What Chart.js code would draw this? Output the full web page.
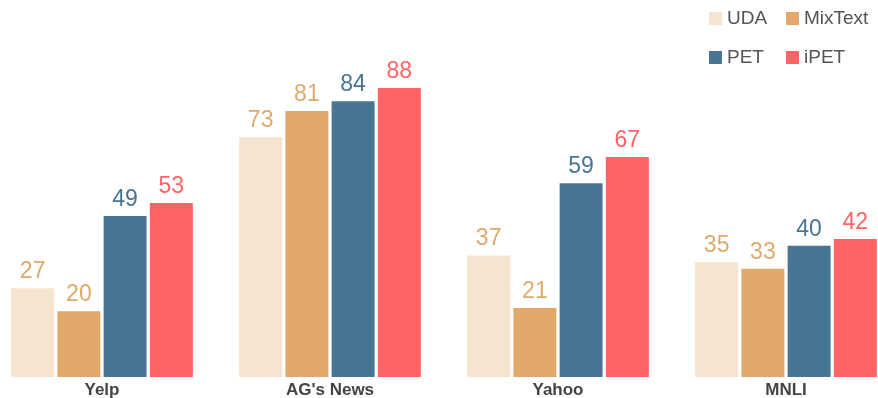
<!DOCTYPE html>
<html>
<head>
<meta charset="utf-8">
<script src="https://cdn.jsdelivr.net/npm/chart.js@4"></script>
<style>
  html, body { margin: 0; padding: 0; background: #fff; overflow: hidden; }
  #wrap { position: absolute; left: -12px; top: 0; width: 912px; height: 398px; }
</style>
</head>
<body>
<div id="wrap"><canvas id="myChart" width="912" height="398"></canvas></div>
<script>
const categories = ["Yelp", "AG's News", "Yahoo", "MNLI"];
const seriesNames = ['UDA', 'MixText', 'PET', 'iPET'];
const uda = [27, 73, 37, 35];
const mixText = [20, 81, 21, 33];
const pet = [49, 84, 59, 40];
const ipet = [53, 88, 67, 42];

const barColors = ['#f5e4d0', '#e0a96b', '#477593', '#fe6465'];
const labelColors = ['#e0a96b', '#e0a96b', '#477593', '#fe6465'];

// value labels above each bar
const valueLabels = {
    id: 'valueLabels',
    afterDatasetsDraw(chart){
        const ctx = chart.ctx;
        ctx.save();
        ctx.font = '23px "Liberation Sans", Arial, sans-serif';
        ctx.textAlign = 'center';
        ctx.textBaseline = 'alphabetic';
        chart.data.datasets.forEach((ds, i) => {
            chart.getDatasetMeta(i).data.forEach((bar, j) => {
                ctx.fillStyle = labelColors[i];
                ctx.fillText(ds.data[j], bar.x, bar.y - 10);
            });
        });
        ctx.restore();
    }
};

// legend in two rows at top right
const gridLegend = {
    id: 'gridLegend',
    afterDraw(chart){
        const ctx = chart.ctx;
        const cols = [721, 798];
        const rows = [18, 57];
        ctx.save();
        ctx.font = '19px "Liberation Sans", Arial, sans-serif';
        ctx.textBaseline = 'middle';
        ctx.textAlign = 'left';
        chart.data.datasets.forEach((ds, i) => {
            const x = cols[i % 2];
            const y = rows[Math.floor(i / 2)];
            ctx.fillStyle = ds.backgroundColor;
            ctx.fillRect(x, y - 6, 13, 13);
            ctx.fillStyle = '#555';
            ctx.fillText(ds.label, x + 18, y + 1);
        });
        ctx.restore();
    }
};

window.onload = () => {
    const ctx = document.getElementById('myChart').getContext('2d');
    const allSeries = [uda, mixText, pet, ipet];
    new Chart(ctx, {
        type: 'bar',
        data: {
            labels: categories,
            datasets: allSeries.map((d, i) => ({
                label: seriesNames[i],
                data: d,
                backgroundColor: barColors[i],
                borderWidth: 0,
                categoryPercentage: 0.811,
                barPercentage: 0.93
            }))
        },
        options: {
            responsive: false,
            animation: false,
            layout: { padding: { top: 0, left: 0, right: 0, bottom: -6 } },
            plugins: {
                legend: { display: false },
                tooltip: { enabled: false }
            },
            scales: {
                y: {
                    display: false,
                    min: 0,
                    max: 114.8
                },
                x: {
                    grid: { display: false, drawTicks: false },
                    border: { display: false },
                    ticks: {
                        color: '#444',
                        padding: 5,
                        font: { family: '"Liberation Sans", Arial, sans-serif', size: 17, weight: 'bold', lineHeight: 1 }
                    }
                }
            }
        },
        plugins: [valueLabels, gridLegend]
    });
}
</script>
</body>
</html>
